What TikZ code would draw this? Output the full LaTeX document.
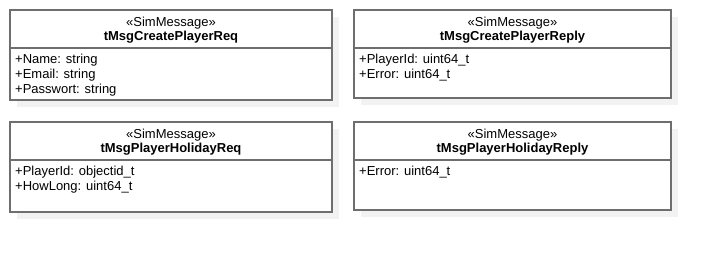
\documentclass[tikz,border=0pt]{standalone}
\usepackage{fontspec}
\setmainfont{Liberation Sans}
\usetikzlibrary{shadows}
\definecolor{umlline}{RGB}{110,110,110}
\definecolor{umlshadow}{RGB}{242,242,242}
\tikzset{
  classbox/.style={draw=umlline, line width=1.4pt, fill=white, anchor=north west,
    inner sep=0pt, outer sep=0pt,
    general shadow={fill=umlshadow, shadow xshift=7pt, shadow yshift=-7pt}},
  divider/.style={draw=umlline, line width=1.2pt},
  stereo/.style={anchor=base, inner sep=0pt, font=\fontsize{13}{15}\selectfont},
  cname/.style={anchor=base, inner sep=0pt, font=\fontsize{13}{15}\selectfont\bfseries},
  attr/.style={anchor=base west, inner sep=0pt, font=\fontsize{13}{15}\selectfont},
}
\begin{document}
\begin{tikzpicture}[x=1pt, y=-1pt]
\useasboundingbox (0,0) rectangle (711,252);

% class boxes
\node[classbox, minimum width=322pt, minimum height=90pt] (cpreq) at (10,10) {};
\node[classbox, minimum width=317pt, minimum height=88pt] (cprep) at (354,10) {};
\node[classbox, minimum width=322pt, minimum height=90pt] (phreq) at (10,122) {};
\node[classbox, minimum width=317pt, minimum height=88pt] (phrep) at (354,122) {};

% compartment dividers
\foreach \b in {cpreq,cprep,phreq,phrep}{
  \draw[divider] ([yshift=-38pt]\b.north west) -- ([yshift=-38pt]\b.north east);
}

% headers
\node[stereo] (cpreqS) at (171,26.3) {«SimMessage»};
\node[cname]  (cpreqN) at (171,40.3) {tMsgCreatePlayerReq};
\node[stereo] (cprepS) at (512.5,26.3) {«SimMessage»};
\node[cname]  (cprepN) at (512.5,40.3) {tMsgCreatePlayerReply};
\node[stereo] (phreqS) at (171,138.3) {«SimMessage»};
\node[cname]  (phreqN) at (171,152.3) {tMsgPlayerHolidayReq};
\node[stereo] (phrepS) at (512.5,138.3) {«SimMessage»};
\node[cname]  (phrepN) at (512.5,152.3) {tMsgPlayerHolidayReply};

% attributes
\node[attr] (a1) at (15,63) {+Name: string};
\node[attr] (a2) at (15,78) {+Email: string};
\node[attr] (a3) at (15,93) {+Passwort: string};

\node[attr] (b1) at (359,63) {+PlayerId: uint64\_t};
\node[attr] (b2) at (359,78) {+Error: uint64\_t};

\node[attr] (c1) at (15,175) {+PlayerId: objectid\_t};
\node[attr] (c2) at (15,190) {+HowLong: uint64\_t};

\node[attr] (d1) at (359,175) {+Error: uint64\_t};
\end{tikzpicture}
\end{document}
